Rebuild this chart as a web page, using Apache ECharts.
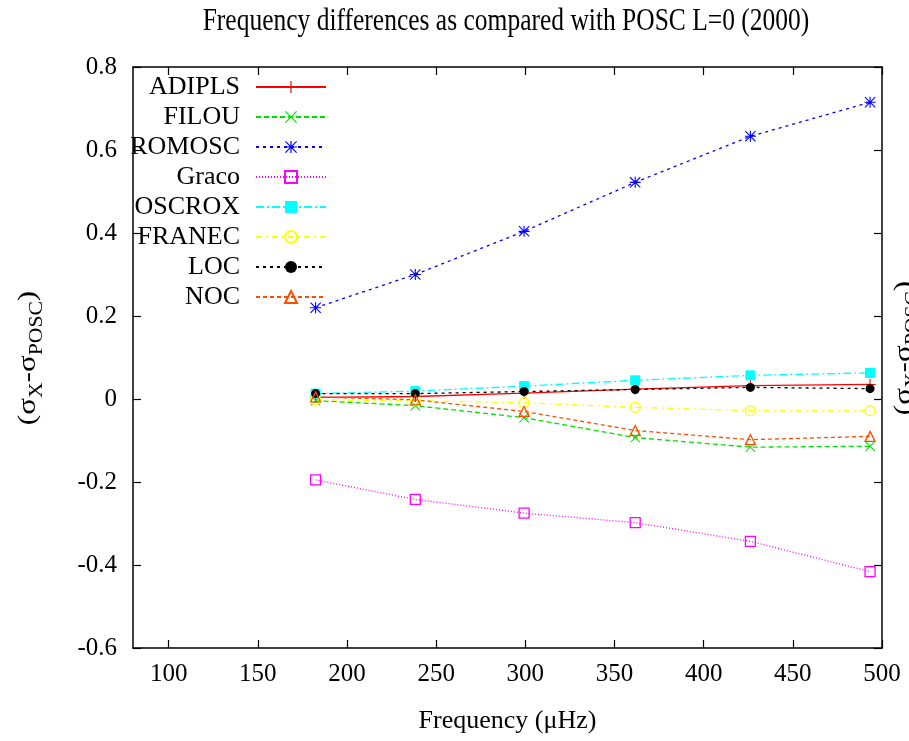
<!DOCTYPE html>
<html>
<head>
<meta charset="utf-8">
<script src="https://cdn.jsdelivr.net/npm/echarts@6/dist/echarts.min.js"></script>
<style>
  html, body { margin: 0; padding: 0; background: #fff; }
  #chart { width: 909px; height: 741px; }
</style>
</head>
<body>
<div id="chart"></div>
<script>
// Radial (L=0) mode frequencies, in microhertz
const freq = [182.4, 238.3, 299.3, 361.6, 426.2, 493.3];

// Frequency differences of each code relative to POSC
const adipls = [0.004, 0.006, 0.014, 0.024, 0.032, 0.035];
const filou  = [-0.004, -0.016, -0.045, -0.093, -0.116, -0.114];
const romosc = [0.220, 0.300, 0.404, 0.522, 0.633, 0.715];
const graco  = [-0.195, -0.242, -0.275, -0.298, -0.343, -0.416];
const oscrox = [0.013, 0.019, 0.031, 0.045, 0.057, 0.063];
const franec = [-0.002, -0.004, -0.009, -0.020, -0.028, -0.028];
const loc    = [0.013, 0.013, 0.018, 0.023, 0.028, 0.025];
const noc    = [0.005, -0.002, -0.030, -0.076, -0.098, -0.090];

const xTicks = [100, 150, 200, 250, 300, 350, 400, 450, 500];
const yTicks = [-0.6, -0.4, -0.2, 0, 0.2, 0.4, 0.6, 0.8];

const FONT = 'Liberation Serif';
const FS = 25;

// gnuplot-like point shapes
const PLUS  = 'path://M9,0H11V20H9ZM0,9H20V11H0Z';
const CROSS = 'path://M0,1.4L1.4,0L20,18.6L18.6,20ZM18.6,0L20,1.4L1.4,20L0,18.6Z';
const STAR  = 'path://M9,0H11V20H9ZM0,9H20V11H0ZM0,1.4L1.4,0L20,18.6L18.6,20ZM18.6,0L20,1.4L1.4,20L0,18.6Z';

function makeSeries(name, values, color, dash, symbol, size, hollow) {
  return {
    name: name,
    type: 'line',
    data: freq.map((f, i) => [f, values[i]]),
    symbol: symbol,
    symbolSize: size,
    showAllSymbol: true,
    lineStyle: { color: color, width: 1.3, type: dash },
    itemStyle: hollow
      ? { color: 'rgba(255,255,255,0)', borderColor: color, borderWidth: 1.3 }
      : { color: color },
    emphasis: { disabled: true },
    z: 2
  };
}

const series = [
  makeSeries('ADIPLS', adipls, '#ff0000', 'solid', PLUS, 11, false),
  makeSeries('FILOU', filou, '#00e000', [5, 3], CROSS, 10, false),
  makeSeries('ROMOSC', romosc, '#0000ff', [3, 4], STAR, 11, false),
  makeSeries('Graco', graco, '#ff00ff', [1, 2], 'rect', 10, true),
  makeSeries('OSCROX', oscrox, '#00ffff', [8, 3, 2, 3], 'rect', 10, false),
  makeSeries('FRANEC', franec, '#ffff00', [6, 4, 2, 4], 'circle', 10, true),
  makeSeries('LOC', loc, '#000000', [3, 4], 'circle', 9, false),
  makeSeries('NOC', noc, '#ff4d00', [4, 3], 'triangle', 10, true)
];

const axisLine = { show: true, onZero: false, lineStyle: { color: '#000', width: 1.5 } };
const tickStyle = { color: '#000', width: 1.2 };

const yLabelRich = {
  a: { fontFamily: FONT, fontSize: 26, color: '#000' },
  s: { fontFamily: FONT, fontSize: 18, color: '#000', padding: [18, 0, 0, 0] }
};
const yLabelText = '{a|(σ}{s|X}{a|-σ}{s|POSC}{a|)}';

const chart = echarts.init(document.getElementById('chart'), null, { renderer: 'canvas' });
chart.setOption({
  animation: false,
  backgroundColor: '#fff',
  grid: { left: 133, right: 27, top: 67, bottom: 93, containLabel: false },
  xAxis: [
    {
      type: 'value', min: 80, max: 500, position: 'bottom',
      name: 'Frequency (μHz)', nameLocation: 'middle', nameGap: 60,
      nameTextStyle: { fontFamily: FONT, fontSize: 26, color: '#000' },
      axisLine: axisLine,
      axisTick: { show: true, inside: true, length: 8, customValues: xTicks, lineStyle: tickStyle },
      axisLabel: { customValues: xTicks, fontFamily: FONT, fontSize: FS, color: '#000', margin: 14 },
      splitLine: { show: false }
    },
    {
      type: 'value', min: 80, max: 500, position: 'top',
      axisLine: axisLine,
      axisTick: { show: true, inside: true, length: 8, customValues: xTicks, lineStyle: tickStyle },
      axisLabel: { show: false },
      splitLine: { show: false }
    }
  ],
  yAxis: [
    {
      type: 'value', min: -0.6, max: 0.8, position: 'left',
      axisLine: axisLine,
      axisTick: { show: true, inside: true, length: 8, customValues: yTicks, lineStyle: tickStyle },
      axisLabel: { customValues: yTicks, fontFamily: FONT, fontSize: FS, color: '#000', margin: 16,
                   formatter: v => String(Math.round(v * 10) / 10) },
      splitLine: { show: false }
    },
    {
      type: 'value', min: -0.6, max: 0.8, position: 'right',
      axisLine: axisLine,
      axisTick: { show: true, inside: true, length: 8, customValues: yTicks, lineStyle: tickStyle },
      axisLabel: { show: false },
      splitLine: { show: false }
    }
  ],
  legend: {
    orient: 'vertical',
    align: 'right',
    right: 582,
    top: 72,
    padding: 0,
    itemGap: 0,
    itemWidth: 70,
    itemHeight: 15,
    selectedMode: false,
    textStyle: { fontFamily: FONT, fontSize: 26, color: '#000', lineHeight: 30, padding: [0, 11, 0, 0] },
    data: series.map(s => s.name)
  },
  graphic: [
    {
      type: 'text', x: 506, y: 22, scaleY: 1.2,
      style: { text: 'Frequency differences as compared with POSC L=0 (2000)',
               fontFamily: FONT, fontSize: 25.5, fill: '#000', align: 'center', verticalAlign: 'middle' }
    },
    {
      type: 'text', x: 28, y: 358, rotation: Math.PI / 2, scaleX: 1.2,
      style: { text: yLabelText, rich: yLabelRich, align: 'center', verticalAlign: 'middle' }
    },
    {
      type: 'text', x: 904, y: 348, rotation: Math.PI / 2, scaleX: 1.2,
      style: { text: yLabelText, rich: yLabelRich, align: 'center', verticalAlign: 'middle' }
    }
  ],
  series: series
});
</script>
</body>
</html>
